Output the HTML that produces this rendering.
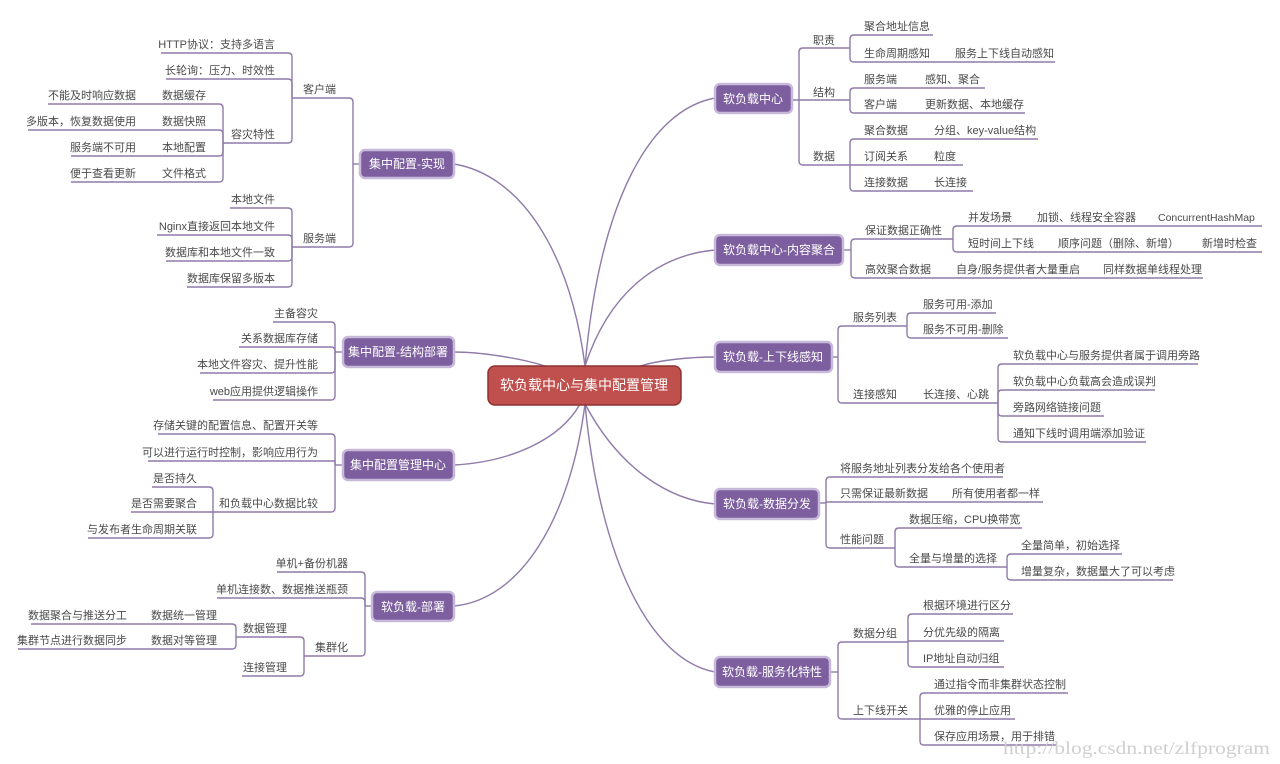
<!DOCTYPE html>
<html><head><meta charset="utf-8"><style>
html,body{margin:0;padding:0;background:#fff;}
svg{display:block;}
text{font-family:"Liberation Sans","Noto Sans CJK SC",sans-serif;font-size:11px;fill:#4a4a4a;}
.l text{text-anchor:end;}
.m{fill:#fff;font-size:12px;text-anchor:middle;}
path{fill:none;stroke:#8f7aa9;stroke-width:1.4;}
.box{fill:#7d5f9f;stroke:#c8b9db;stroke-width:2.5;}
</style></head><body>
<svg width="1280" height="764" viewBox="0 0 1280 764" xmlns="http://www.w3.org/2000/svg">
<g>
<path d="M585 366 C600 200,650 110,715 98"/>
<path d="M585 366 C610 290,660 255,715 250"/>
<path d="M640 366 C660 360,690 357,715 357"/>
<path d="M585 404 C620 470,670 500,715 504"/>
<path d="M585 404 C600 560,650 660,715 672"/>
<path d="M585 366 C570 250,520 175,454 164"/>
<path d="M545 366 C520 358,480 352,454 352"/>
<path d="M580 404 C560 440,510 462,454 465"/>
<path d="M585 404 C570 520,520 600,454 606"/>
</g>
<g>
<path d="M792 100 H850"/>
<path d="M799 100 V52 Q799 48 803 48 H850"/>
<path d="M799 100 V161 Q799 165 803 165 H850"/>
<path d="M850 48 V39 Q850 35 854 35 H933"/>
<path d="M850 48 V58 Q850 62 854 62 H1055"/>
<path d="M850 100 V92 Q850 88 854 88 H985"/>
<path d="M850 100 V109 Q850 113 854 113 H1025"/>
<path d="M850 165 V143 Q850 139 854 139 H1038"/>
<path d="M850 165 H963"/>
<path d="M850 165 V187 Q850 191 854 191 H973"/>

<path d="M843 250 H851"/>
<path d="M851 250 V243 Q851 239 855 239 H953"/>
<path d="M851 250 V274 Q851 278 855 278 H1203"/>
<path d="M953 239 V230 Q953 226 957 226 H1262"/>
<path d="M953 239 V248 Q953 252 957 252 H1262"/>

<path d="M832 357 H838"/>
<path d="M838 357 V330 Q838 326 842 326 H907"/>
<path d="M838 357 V399 Q838 403 842 403 H998"/>
<path d="M907 326 V317 Q907 313 911 313 H996"/>
<path d="M907 326 V334 Q907 338 911 338 H1008"/>
<path d="M998 403 V368 Q998 364 1002 364 H1198"/>
<path d="M998 403 V394 Q998 390 1002 390 H1155"/>
<path d="M998 403 V412 Q998 416 1002 416 H1104"/>
<path d="M998 403 V438 Q998 442 1002 442 H1146"/>

<path d="M819 503 H826"/>
<path d="M826 503 V481 Q826 477 830 477 H1003"/>
<path d="M826 503 V502 H1043"/>
<path d="M826 503 V544 Q826 548 830 548 H895"/>
<path d="M895 548 V532 Q895 528 899 528 H1022"/>
<path d="M895 548 V563 Q895 567 899 567 H1007"/>
<path d="M1007 567 V558 Q1007 554 1011 554 H1122"/>
<path d="M1007 567 V576 Q1007 580 1011 580 H1173"/>

<path d="M830 672 H838"/>
<path d="M838 672 V646 Q838 642 842 642 H908"/>
<path d="M838 672 V715 Q838 719 842 719 H920"/>
<path d="M908 642 V618 Q908 614 912 614 H1013"/>
<path d="M908 641 H1004"/>
<path d="M908 642 V663 Q908 667 912 667 H1004"/>
<path d="M920 719 V697 Q920 693 924 693 H1068"/>
<path d="M920 719 H1015"/>
<path d="M920 719 V741 Q920 745 924 745 H1057"/>
</g>
<g>
<path d="M360 164 H353"/>
<path d="M353 164 V102 Q353 98 349 98 H292"/>
<path d="M353 164 V243 Q353 247 349 247 H292"/>
<path d="M292 98 V57 Q292 53 288 53 H161"/>
<path d="M292 98 V83 Q292 79 288 79 H166"/>
<path d="M292 98 V139 Q292 143 288 143 H223"/>
<path d="M223 143 V108 Q223 104 219 104 H48"/>
<path d="M223 143 V134 Q223 130 219 130 H28"/>
<path d="M223 143 V152 Q223 156 219 156 H71"/>
<path d="M223 143 V178 Q223 182 219 182 H71"/>
<path d="M292 247 V212 Q292 208 288 208 H230"/>
<path d="M292 247 V239 Q292 235 288 235 H157"/>
<path d="M292 247 V257 Q292 261 288 261 H166"/>
<path d="M292 247 V283 Q292 287 288 287 H187"/>

<path d="M343 352 H335"/>
<path d="M335 352 V326 Q335 322 331 322 H273"/>
<path d="M335 352 V351 Q335 347 331 347 H239"/>
<path d="M335 352 V369 Q335 373 331 373 H200"/>
<path d="M335 352 V396 Q335 400 331 400 H213"/>

<path d="M343 465 H335"/>
<path d="M335 465 V438 Q335 434 331 434 H158"/>
<path d="M335 465 V461 H148"/>
<path d="M335 465 V508 Q335 512 331 512 H213"/>
<path d="M213 512 V491 Q213 487 209 487 H152"/>
<path d="M213 512 H131"/>
<path d="M213 512 V534 Q213 538 209 538 H88"/>

<path d="M372 606 H365"/>
<path d="M365 606 V576 Q365 572 361 572 H277"/>
<path d="M365 606 V602 Q365 598 361 598 H217"/>
<path d="M365 606 V652 Q365 656 361 656 H304"/>
<path d="M304 656 V641 Q304 637 300 637 H236"/>
<path d="M304 656 V672 Q304 676 300 676 H242"/>
<path d="M236 637 V628 Q236 624 232 624 H31"/>
<path d="M236 637 V645 Q236 649 232 649 H18"/>
</g>

<rect x="488" y="366" width="193" height="39" rx="7" fill="#c0504d" stroke="#8e3330" stroke-width="1.5"/>
<text x="584" y="390" style="fill:#fff;font-size:14px;text-anchor:middle">软负载中心与集中配置管理</text>

<rect class="box" x="715" y="84" width="77" height="29" rx="5"/><text class="m" x="753" y="103">软负载中心</text>
<rect class="box" x="715" y="235" width="128" height="30" rx="5"/><text class="m" x="779" y="254">软负载中心-内容聚合</text>
<rect class="box" x="715" y="342" width="117" height="30" rx="5"/><text class="m" x="773" y="361">软负载-上下线感知</text>
<rect class="box" x="715" y="489" width="104" height="30" rx="5"/><text class="m" x="767" y="508">软负载-数据分发</text>
<rect class="box" x="715" y="657" width="115" height="30" rx="5"/><text class="m" x="772" y="676">软负载-服务化特性</text>

<rect class="box" x="360" y="150" width="94" height="28" rx="5"/><text class="m" x="407" y="168">集中配置-实现</text>
<rect class="box" x="343" y="337" width="111" height="30" rx="5"/><text class="m" x="398" y="356">集中配置-结构部署</text>
<rect class="box" x="343" y="450" width="111" height="30" rx="5"/><text class="m" x="398" y="469">集中配置管理中心</text>
<rect class="box" x="372" y="592" width="82" height="29" rx="5"/><text class="m" x="413" y="611">软负载-部署</text>

<g>
<text x="813" y="44">职责</text><text x="813" y="96">结构</text><text x="813" y="160">数据</text>
<text x="864" y="30">聚合地址信息</text>
<text x="864" y="57">生命周期感知</text><text x="955" y="57">服务上下线自动感知</text>
<text x="864" y="83">服务端</text><text x="925" y="83">感知、聚合</text>
<text x="864" y="108">客户端</text><text x="925" y="108">更新数据、本地缓存</text>
<text x="864" y="134">聚合数据</text><text x="934" y="134">分组、key-value结构</text>
<text x="864" y="160">订阅关系</text><text x="934" y="160">粒度</text>
<text x="864" y="186">连接数据</text><text x="934" y="186">长连接</text>

<text x="865" y="234">保证数据正确性</text>
<text x="968" y="221">并发场景</text><text x="1037" y="221">加锁、线程安全容器</text><text x="1158" y="221" style="font-size:10.5px">ConcurrentHashMap</text>
<text x="968" y="247">短时间上下线</text><text x="1058" y="247">顺序问题（删除、新增）</text><text x="1202" y="247">新增时检查</text>
<text x="865" y="273">高效聚合数据</text><text x="956" y="273">自身/服务提供者大量重启</text><text x="1103" y="273">同样数据单线程处理</text>

<text x="853" y="321">服务列表</text>
<text x="923" y="308">服务可用-添加</text><text x="923" y="333">服务不可用-删除</text>
<text x="853" y="398">连接感知</text><text x="923" y="398">长连接、心跳</text>
<text x="1013" y="359">软负载中心与服务提供者属于调用旁路</text>
<text x="1013" y="385">软负载中心负载高会造成误判</text>
<text x="1013" y="411">旁路网络链接问题</text>
<text x="1013" y="437">通知下线时调用端添加验证</text>

<text x="840" y="472">将服务地址列表分发给各个使用者</text>
<text x="840" y="497">只需保证最新数据</text><text x="952" y="497">所有使用者都一样</text>
<text x="840" y="543">性能问题</text>
<text x="909" y="523">数据压缩，CPU换带宽</text>
<text x="909" y="562">全量与增量的选择</text>
<text x="1021" y="549">全量简单，初始选择</text>
<text x="1021" y="575">增量复杂，数据量大了可以考虑</text>

<text x="853" y="637">数据分组</text>
<text x="923" y="609">根据环境进行区分</text><text x="923" y="636">分优先级的隔离</text><text x="923" y="662">IP地址自动归组</text>
<text x="853" y="714">上下线开关</text>
<text x="934" y="688">通过指令而非集群状态控制</text><text x="934" y="714">优雅的停止应用</text><text x="934" y="740">保存应用场景，用于排错</text>
</g>

<g class="l">
<text x="336" y="93">客户端</text><text x="336" y="242">服务端</text>
<text x="275" y="48">HTTP协议：支持多语言</text>
<text x="275" y="74">长轮询：压力、时效性</text>
<text x="275" y="138">容灾特性</text>
<text x="206" y="99">数据缓存</text><text x="136" y="99">不能及时响应数据</text>
<text x="206" y="125">数据快照</text><text x="136" y="125">多版本，恢复数据使用</text>
<text x="206" y="151">本地配置</text><text x="136" y="151">服务端不可用</text>
<text x="206" y="177">文件格式</text><text x="136" y="177">便于查看更新</text>
<text x="275" y="203">本地文件</text>
<text x="275" y="230">Nginx直接返回本地文件</text>
<text x="275" y="256">数据库和本地文件一致</text>
<text x="275" y="282">数据库保留多版本</text>

<text x="318" y="317">主备容灾</text>
<text x="318" y="342">关系数据库存储</text>
<text x="318" y="368">本地文件容灾、提升性能</text>
<text x="318" y="395">web应用提供逻辑操作</text>

<text x="318" y="429">存储关键的配置信息、配置开关等</text>
<text x="318" y="456">可以进行运行时控制，影响应用行为</text>
<text x="318" y="507">和负载中心数据比较</text>
<text x="197" y="482">是否持久</text>
<text x="197" y="507">是否需要聚合</text>
<text x="197" y="533">与发布者生命周期关联</text>

<text x="348" y="567">单机+备份机器</text>
<text x="348" y="593">单机连接数、数据推送瓶颈</text>
<text x="348" y="651">集群化</text>
<text x="287" y="632">数据管理</text>
<text x="287" y="671">连接管理</text>
<text x="217" y="619">数据统一管理</text><text x="127" y="619">数据聚合与推送分工</text>
<text x="217" y="644">数据对等管理</text><text x="127" y="644">集群节点进行数据同步</text>
</g>

<text x="1003" y="754" textLength="267" lengthAdjust="spacingAndGlyphs" style="font-family:'Liberation Serif',serif;font-size:18px;fill:#cfcfcf">http://blog.csdn.net/zlfprogram</text>
</svg>
</body></html>
